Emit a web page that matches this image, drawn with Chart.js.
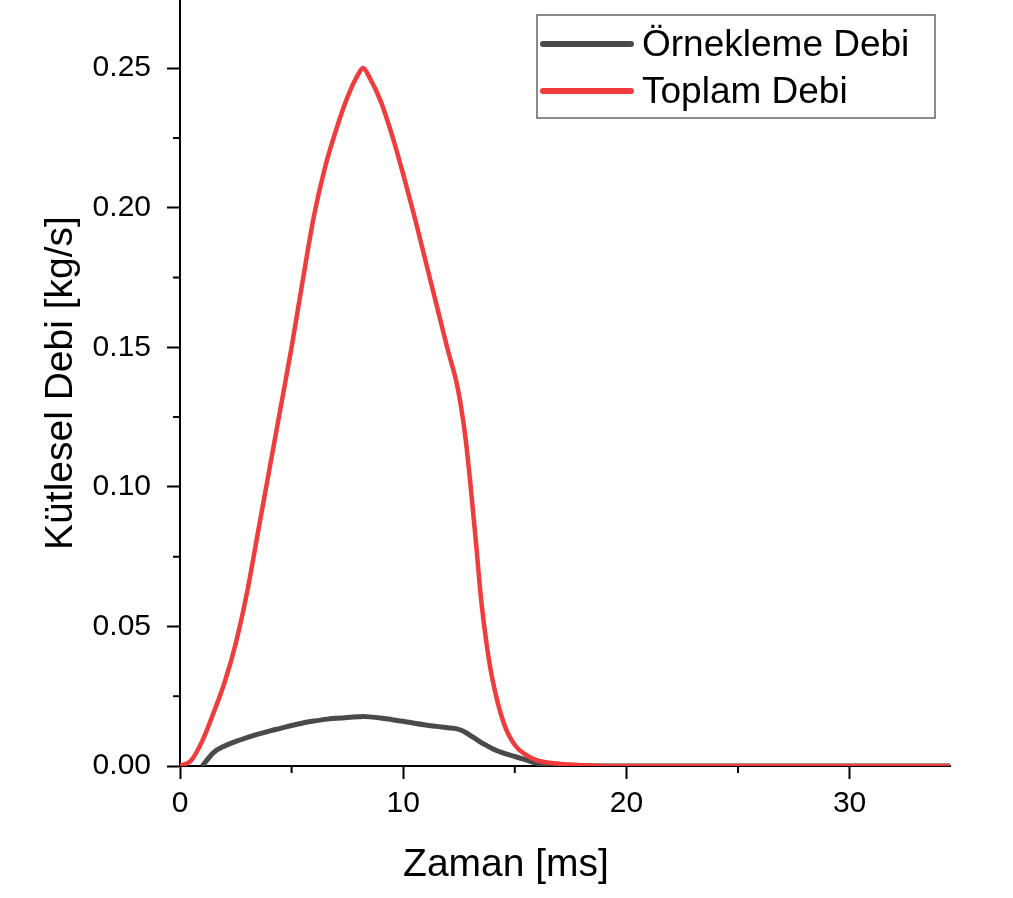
<!DOCTYPE html>
<html>
<head>
<meta charset="utf-8">
<script src="https://cdn.jsdelivr.net/npm/chart.js@4.4.1/dist/chart.umd.min.js"></script>
<style>
    html, body { margin: 0; padding: 0; background: #fff; }
    #wrap { width: 1013px; height: 898px; }
</style>
</head>
<body>
<div id="wrap"><canvas id="flow-chart"></canvas></div>
<script>
// time axis [ms]
const timeMs = [0, 0.5, 1.0, 1.5, 2.0, 2.5, 3.0, 3.5, 4.0, 4.5,
    5.0, 5.5, 6.0, 6.5, 7.0, 7.5, 8.0, 8.2, 8.5, 9.0,
    9.5, 10.0, 10.5, 11.0, 11.5, 12.0, 12.4, 12.6, 12.8, 13.0,
    13.25, 13.5, 13.75, 14.0, 14.5, 15.0, 15.5, 16.0, 17.0, 18.0,
    20.0, 25.0, 30.0, 34.5];

// Örnekleme Debi [kg/s]
const samplingFlow = [null, null, 0, 0.0048, 0.0072, 0.0088, 0.0102, 0.0114, 0.0125, 0.0135,
    0.0145, 0.0154, 0.0161, 0.0167, 0.0171, 0.0174, 0.0176, 0.0177, 0.0176, 0.0172,
    0.0166, 0.0160, 0.0153, 0.0147, 0.0142, 0.0137, 0.0133, 0.0128, 0.0120, 0.0110,
    0.0097, 0.0084, 0.0073, 0.0062, 0.0046, 0.0034, 0.0022, 0.0010, 0.0002, 0,
    0, 0, 0, 0];

// Toplam Debi [kg/s]
const totalFlow = [0, 0.002, 0.009, 0.019, 0.030, 0.044, 0.062, 0.084, 0.106, 0.128,
    0.150, 0.174, 0.197, 0.2145, 0.228, 0.2395, 0.248, 0.250, 0.2465, 0.238,
    0.226, 0.212, 0.197, 0.181, 0.165, 0.149, 0.137, 0.1283, 0.117, 0.102,
    0.081, 0.059, 0.043, 0.031, 0.0155, 0.0075, 0.004, 0.002, 0.0008, 0.0003,
    0, 0, 0, 0];

const xTicks = [0, 10, 20, 30];
const xMinorTicks = [5, 15, 25];
const yTicks = [0, 0.05, 0.10, 0.15, 0.20, 0.25];
const yMinorTicks = [0.025, 0.075, 0.125, 0.175, 0.225];

const FONT = '"Liberation Sans", Arial, sans-serif';
Chart.defaults.font.family = FONT;
Chart.defaults.color = '#000';

function toPoints(values) {
    return timeMs.map((t, i) => ({ x: t, y: values[i] }));
}

// small outward ticks between the labelled ones
const minorTicks = {
    id: 'minorTicks',
    afterDraw(chart) {
        const { ctx, scales: { x, y } } = chart;
        ctx.save();
        ctx.strokeStyle = '#000';
        ctx.lineWidth = 2;
        ctx.beginPath();
        xMinorTicks.forEach(v => {
            const px = x.getPixelForValue(v);
            ctx.moveTo(px, x.top);
            ctx.lineTo(px, x.top + 7);
        });
        yMinorTicks.forEach(v => {
            const py = y.getPixelForValue(v);
            ctx.moveTo(y.right, py);
            ctx.lineTo(y.right - 7, py);
        });
        ctx.stroke();
        ctx.restore();
    }
};

// x title sits left of the plot centre in the original
const xTitle = {
    id: 'xTitle',
    afterDraw(chart) {
        const { ctx, chartArea } = chart;
        ctx.save();
        ctx.font = '39px ' + FONT;
        ctx.fillStyle = '#000';
        ctx.textAlign = 'center';
        ctx.textBaseline = 'middle';
        ctx.fillText('Zaman [ms]', chartArea.left + 326, chartArea.bottom + 99);
        ctx.restore();
    }
};

// boxed legend inside the top right corner
const boxLegend = {
    id: 'boxLegend',
    afterDraw(chart) {
        const { ctx, chartArea } = chart;
        const w = 398, h = 103;
        const left = chartArea.right - 15 - w;
        const top = chartArea.top + 15;
        ctx.save();
        ctx.fillStyle = '#fff';
        ctx.fillRect(left, top, w, h);
        ctx.strokeStyle = '#666';
        ctx.lineWidth = 1.5;
        ctx.strokeRect(left, top, w, h);
        ctx.font = '37px ' + FONT;
        ctx.textBaseline = 'middle';
        ctx.lineCap = 'round';
        chart.data.datasets.forEach((ds, i) => {
            const rowY = top + 29 + i * 47;
            ctx.strokeStyle = ds.borderColor;
            ctx.lineWidth = 6;
            ctx.beginPath();
            ctx.moveTo(left + 6, rowY);
            ctx.lineTo(left + 94, rowY);
            ctx.stroke();
            ctx.fillStyle = '#000';
            ctx.fillText(ds.label, left + 105, rowY + 2);
        });
        ctx.restore();
    }
};

const ctx = document.getElementById('flow-chart').getContext('2d');
const chart = new Chart(ctx, {
    type: 'line',
    data: {
        datasets: [{
            label: 'Örnekleme Debi',
            data: toPoints(samplingFlow),
            borderColor: '#4a4a4a',
            borderWidth: 5,
            order: 1
        }, {
            label: 'Toplam Debi',
            data: toPoints(totalFlow),
            borderColor: '#f03c3c',
            borderWidth: 4.5,
            order: 0
        }]
    },
    options: {
        responsive: true,
        maintainAspectRatio: false,
        animation: false,
        devicePixelRatio: 1,
        layout: { padding: { left: 0, right: 63, top: 0, bottom: 0 } },
        elements: {
            point: { radius: 0 },
            line: { cubicInterpolationMode: 'monotone', borderJoinStyle: 'round' }
        },
        plugins: {
            legend: { display: false },
            tooltip: { enabled: false }
        },
        scales: {
            x: {
                type: 'linear',
                min: 0,
                max: 34.5,
                afterBuildTicks: scale => { scale.ticks = xTicks.map(v => ({ value: v })); },
                afterFit: scale => { scale.height = 132; scale.paddingLeft = 0; scale.paddingRight = 0; },
                ticks: {
                    font: { size: 30 },
                    color: '#000',
                    padding: 7,
                    maxRotation: 0,
                    callback: v => String(v)
                },
                grid: { drawOnChartArea: false, drawTicks: true, tickLength: 13, tickWidth: 2, tickColor: '#000' },
                border: { display: true, color: '#000', width: 2 },
                title: { display: false }
            },
            y: {
                type: 'linear',
                min: 0,
                max: 0.2744,
                afterBuildTicks: scale => { scale.ticks = yTicks.map(v => ({ value: v })); },
                afterFit: scale => { scale.width = 180; scale.paddingTop = 0; scale.paddingBottom = 0; },
                ticks: {
                    font: { size: 30 },
                    color: '#000',
                    padding: 16,
                    callback: v => Number(v).toFixed(2)
                },
                grid: { drawOnChartArea: false, drawTicks: true, tickLength: 13, tickWidth: 2, tickColor: '#000' },
                border: { display: true, color: '#000', width: 2 },
                title: {
                    display: true,
                    text: 'Kütlesel Debi [kg/s]',
                    font: { size: 39 },
                    color: '#000',
                    padding: { top: 38, bottom: 0 }
                }
            }
        }
    },
    plugins: [minorTicks, xTitle, boxLegend]
});
</script>
</body>
</html>
